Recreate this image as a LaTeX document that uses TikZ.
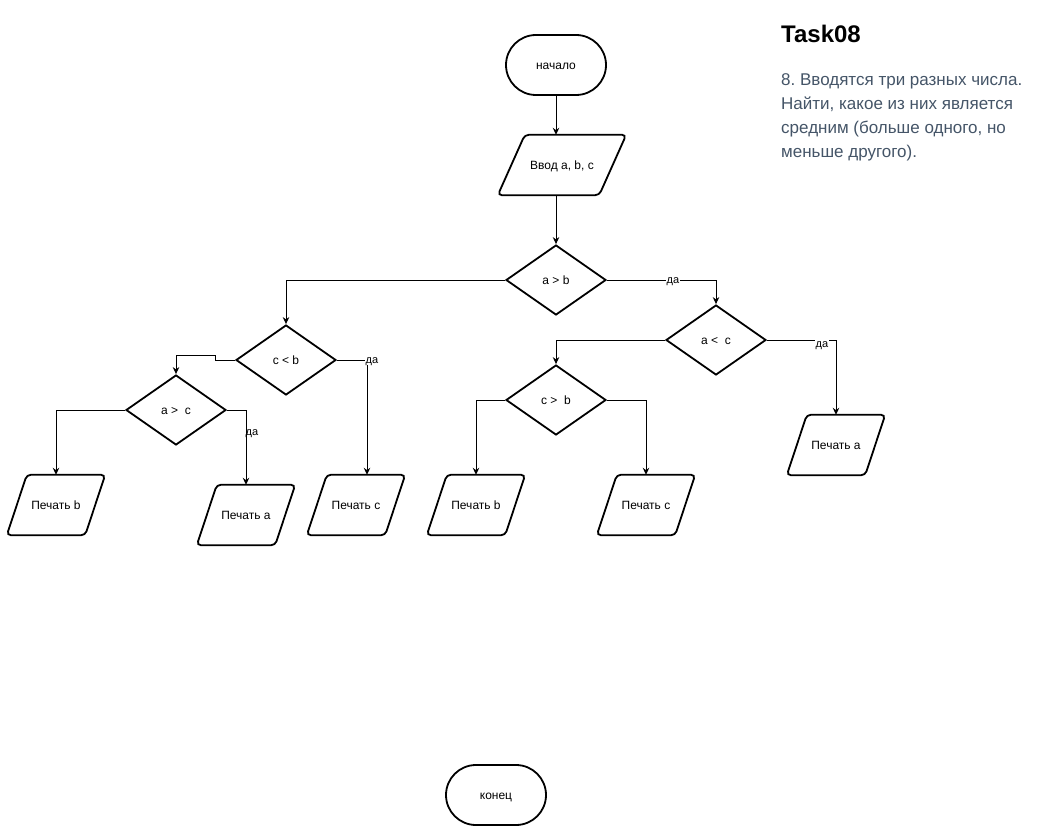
\documentclass[tikz,border=0pt]{standalone}
\usepackage{fontspec}
\setmainfont{Liberation Sans}
\usetikzlibrary{shapes.geometric,arrows.meta}
\definecolor{note}{HTML}{455568}
\frenchspacing

\begin{document}
\begin{tikzpicture}[x=1pt,y=-1pt,
  every node/.style={font=\fontsize{12}{14}\selectfont},
  shapeline/.style={line width=1.8pt, draw=black},
  boxtext/.style={text height=10pt, text depth=1pt},
  term/.style={shapeline, boxtext, rounded corners=30pt, minimum width=100pt, minimum height=60pt, inner sep=0pt},
  cond/.style={shapeline, boxtext, diamond, aspect=1.43, minimum width=100pt, minimum height=70pt, inner sep=0pt},
  io/.style={boxtext, minimum width=98pt, minimum height=60pt, inner sep=0pt,
    append after command={\pgfextra{\draw[shapeline, rounded corners=4pt]
      (\tikzlastnode.south west) -- ([xshift=-#1]\tikzlastnode.south east)
      -- (\tikzlastnode.north east) -- ([xshift=#1]\tikzlastnode.north west) -- cycle;}}},
  io/.default=20pt,
  arr/.style={-{Stealth[length=7pt,width=6.5pt]}, line width=1pt},
  yes/.style={fill=white, inner sep=0.5pt, text height=8pt, text depth=0.6pt, font=\fontsize{11}{13}\selectfont},
  notes/.style={anchor=base west, text=note, inner sep=0pt, font=\fontsize{17}{24}\selectfont}]

\fill[white] (0,0) rectangle (1042,832);
\useasboundingbox (0,0) rectangle (1042,832);

% start, input, end
\node[term] (start) at (556,65) {начало};
\node[io=27pt, minimum width=128pt] (in) at (562,165) {Ввод a, b, c};
\node[term] (stop) at (496,795) {конец};

% decisions
\node[cond] (ab)  at (556,280) {a > b};
\node[cond] (ac)  at (716,340) {a <\ \ c};
\node[cond] (cb)  at (286,360) {c < b};
\node[cond] (agc) at (176,410) {a >\ \ c};
\node[cond] (cgb) at (556,400) {c >\ \ b};

% outputs
\node[io] (pb1) at (56,505)  {Печать b};
\node[io] (pa1) at (246,515) {Печать a};
\node[io] (pc1) at (356,505) {Печать c};
\node[io] (pb2) at (476,505) {Печать b};
\node[io] (pc2) at (646,505) {Печать c};
\node[io] (pa2) at (836,445) {Печать a};

% flow
\draw[arr] (start.south) -- (start.south |- in.north);
\draw[arr] (ab.north |- in.south) -- (ab.north);
\draw[arr] (ab.west) -| (cb.north);
\draw[arr] (ab.east) -| (ac.north);
\draw[arr] (ac.west) -| (cgb.north);
\draw[arr] (ac.east) -| (pa2.north);
\draw[arr] (cb.west) -- ++(-20,0) -- ++(0,-5) -| (agc.north);
\draw[arr] (cb.east) -| ([xshift=11pt]pc1.north);
\draw[arr] (agc.west) -| (pb1.north);
\draw[arr] (agc.east) -| (pa1.north);
\draw[arr] (cgb.west) -| (pb2.north);
\draw[arr] (cgb.east) -| (pc2.north);

% branch labels
\node[yes] (y1) at (673,280) {да};
\node[yes] (y2) at (822,344) {да};
\node[yes] (y3) at (372,360) {да};
\node[yes, fill=none] (y4) at (252,432) {да};

% task statement
\node[anchor=base west, inner sep=0pt, font=\bfseries\fontsize{24}{28}\selectfont] (title) at (781,43) {Task08};
\node[notes] (n1) at (781,86)  {8. Вводятся три разных числа.};
\node[notes] (n2) at (781,110) {Найти, какое из них является};
\node[notes] (n3) at (781,134) {средним (больше одного, но};
\node[notes] (n4) at (781,158) {меньше другого).};
\end{tikzpicture}
\end{document}
